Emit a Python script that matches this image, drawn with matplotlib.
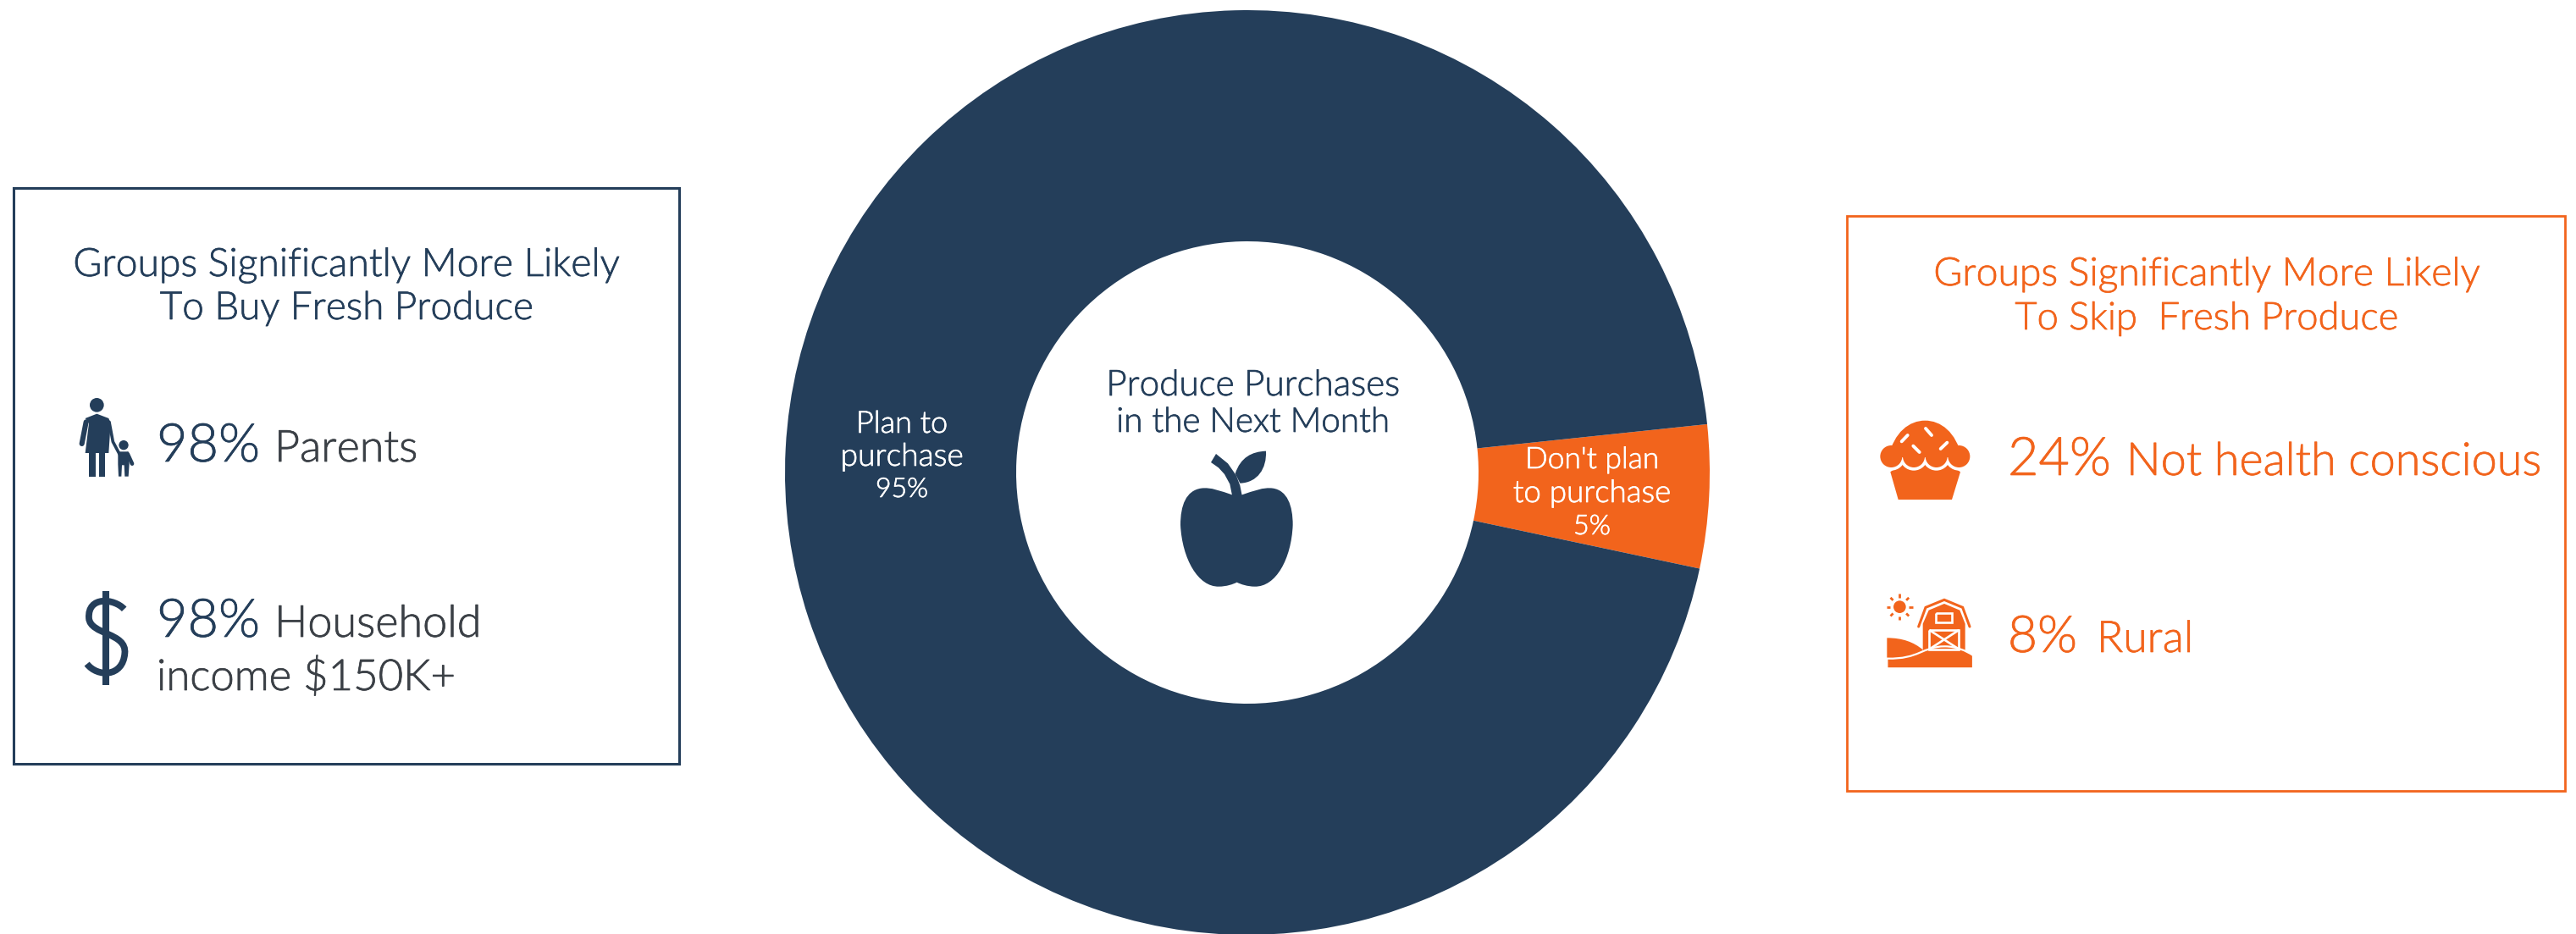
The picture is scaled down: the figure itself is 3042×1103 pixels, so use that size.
import numpy as np
import matplotlib
matplotlib.use("Agg")
import matplotlib.pyplot as plt
import matplotlib.patheffects as pe
from matplotlib.path import Path
from matplotlib.patches import PathPatch, Circle, Polygon, Rectangle

NAVY = "#243E5A"
ORANGE = "#F2641C"
GREY = "#3B4046"

# donut values
shares = [5, 95]
share_colors = [ORANGE, NAVY]
share_text = ["Don't plan\nto purchase\n5%", "Plan to\npurchase\n95%"]

# side panels
buy_groups = ["Parents", "Household"]
buy_values = ["98%", "98%"]
skip_groups = ["Not health conscious", "Rural"]
skip_values = ["24%", "8%"]

W, H = 3042, 1103
plt.rcParams["font.family"] = ["Lato", "DejaVu Sans"]
fig = plt.figure(figsize=(W / 100, H / 100), dpi=100, facecolor="white")

# donut gets its own axes, everything else is drawn in pixel coords
cx, cy, R = 1473, 558, 546
ax_pie = fig.add_axes([(cx - R) / W, (H - cy - R) / H, 2 * R / W, 2 * R / H])
ax_pie.pie(shares, colors=share_colors, startangle=-12, radius=1,
           wedgeprops=dict(width=0.5))
ax_pie.set_xlim(-1, 1)
ax_pie.set_ylim(-1, 1)
ax_pie.axis("off")

ax = fig.add_axes([0, 0, 1, 1])
ax.set_xlim(0, W)
ax.set_ylim(H, 0)
ax.axis("off")
ax.patch.set_alpha(0)


def fit(x, y, s, width, color, ha="left", va="baseline", weight=300):
    # font size is picked so the string spans the given pixel width
    t = ax.text(x, y, s, color=color, ha=ha, va=va, fontweight=weight, fontsize=30)
    w = t.get_window_extent(fig.canvas.get_renderer()).width
    t.set_fontsize(30 * width / w)
    # light face is a bit too thin, fatten it slightly
    t.set_path_effects([pe.withStroke(linewidth=0.5, foreground=color)])
    return t


def poly(pts, fn, color, **kw):
    ax.add_patch(Polygon([fn(*p) for p in pts], closed=True, fc=color, ec="none", **kw))


def curve(verts, codes, fn, fc, ec="none", lw=0):
    p = Path([fn(*v) for v in verts], codes)
    ax.add_patch(PathPatch(p, fc=fc, ec=ec, lw=lw, capstyle="butt"))


def circ(x, y, r, fn, color, scale=3.0):
    ax.add_patch(Circle(fn(x, y), r / scale, fc=color, ec="none"))


def seg(pts, fn, color, lw, cap="round"):
    xy = np.array([fn(*p) for p in pts])
    ax.plot(xy[:, 0], xy[:, 1], color=color, lw=lw, solid_capstyle=cap, solid_joinstyle="miter")


# panel boxes
ax.add_patch(Rectangle((16, 222), 786, 680, fc="none", ec=NAVY, lw=2.2))
ax.add_patch(Rectangle((2181, 255), 848, 679, fc="none", ec=ORANGE, lw=2.0))

# left panel text
fit(409, 326, "Groups Significantly More Likely", 644, NAVY, ha="center")
fit(409, 377, "To Buy Fresh Produce", 440, NAVY, ha="center")
fit(185, 545, buy_values[0], 122, NAVY)
fit(324, 545, buy_groups[0], 169, GREY)
fit(185, 752, buy_values[1], 122, NAVY)
fit(324, 752, buy_groups[1], 244, GREY)
fit(185, 815, "income $150K+", 352, GREY)

# right panel text
fit(2606, 337, "Groups Significantly More Likely", 644, ORANGE, ha="center")
fit(2606, 389, "To Skip  Fresh Produce", 452, ORANGE, ha="center")
fit(2371, 561, skip_values[0], 122, ORANGE)
fit(2511, 561, skip_groups[0], 489, ORANGE)
fit(2371, 770, skip_values[1], 82, ORANGE)
fit(2476, 770, skip_groups[1], 114, ORANGE)

# centre and slice labels
fit(1480, 467, "Produce Purchases", 346, NAVY, ha="center")
fit(1480, 510, "in the Next Month", 322, NAVY, ha="center")

plan = share_text[1].split("\n")
for line, yy, ww in zip(plan, [511, 550, 587], [108, 145, 62]):
    fit(1065, yy, line, ww, "white", ha="center")
skip = share_text[0].split("\n")
for line, yy, ww in zip(skip, [553, 593, 631], [158, 186, 44]):
    fit(1880, yy, line, ww, "white", ha="center")


# woman and child
def z4(x, y):
    return 60 + x / 3, 450 + y / 3


circ(163, 85, 25, z4, NAVY)
poly([(122, 132), (163, 116), (205, 132), (212, 150), (205, 255), (122, 255), (135, 150)], z4, NAVY)
seg([(125, 145), (110, 222)], z4, NAVY, 4.4)
poly([(135, 250), (160, 250), (160, 338), (135, 338)], z4, NAVY)
poly([(170, 250), (192, 250), (192, 338), (170, 338)], z4, NAVY)
seg([(207, 145), (220, 215), (245, 262)], z4, NAVY, 2.6)
circ(258, 227, 17, z4, NAVY)
poly([(238, 250), (275, 250), (278, 295), (275, 338), (262, 338), (260, 298), (252, 298), (250, 338), (240, 338), (238, 295)], z4, NAVY)
seg([(272, 258), (288, 293)], z4, NAVY, 3.4)

# dollar sign
seg([(195, 745), (195, 1078)], z4, NAVY, 5.8, cap="butt")
curve([(260, 808), (225, 770), (130, 760), (135, 840), (140, 900), (270, 890), (262, 965),
       (255, 1050), (165, 1050), (128, 1002)],
      [Path.MOVETO] + [Path.CURVE4] * 9, z4, "none", ec=NAVY, lw=5.6)


# cupcake
def z5(x, y):
    return 2200 + x / 3, 480 + y / 3


poly([(97, 232), (140, 200), (300, 200), (345, 232), (315, 330), (125, 330)], z5, ORANGE)
for lx in [100, 180, 260, 340]:
    circ(lx, 177, 50, z5, "white")
for lx in [100, 180, 260, 340]:
    circ(lx, 177, 39, z5, ORANGE)
curve([(90, 180), (110, 90), (165, 50), (220, 50), (275, 50), (330, 90), (350, 180), (90, 180)],
      [Path.MOVETO] + [Path.CURVE4] * 6 + [Path.CLOSEPOLY], z5, ORANGE)
for a, b in [((137, 124), (158, 102)), ((222, 78), (243, 102)),
             ((178, 140), (200, 162)), ((275, 150), (298, 128))]:
    seg([a, b], z5, "white", 2.8)

# barn, sun and hills
circ(130, 710, 22, z5, ORANGE)
for ang in np.arange(0, 360, 45):
    c, s = np.cos(np.radians(ang)), np.sin(np.radians(ang))
    seg([(130 + 33 * c, 710 + 33 * s), (130 + 46 * c, 710 + 46 * s)], z5, ORANGE, 2.0, cap="butt")
seg([(197, 780), (222, 712), (288, 685), (353, 712), (378, 780)], z5, ORANGE, 2.2)
poly([(212, 870), (212, 770), (233, 722), (288, 699), (343, 722), (362, 770), (362, 870)], z5, ORANGE)
seg([(258, 732), (315, 732), (315, 766), (258, 766), (258, 732)], z5, "white", 1.9, cap="butt")
seg([(235, 792), (340, 792), (340, 860), (235, 860), (235, 792)], z5, "white", 1.9, cap="butt")
seg([(235, 792), (340, 860)], z5, "white", 1.9, cap="butt")
seg([(340, 792), (235, 860)], z5, "white", 1.9, cap="butt")
curve([(85, 820), (140, 820), (180, 835), (212, 862), (212, 900), (85, 900), (85, 820)],
      [Path.MOVETO] + [Path.CURVE4] * 3 + [Path.LINETO, Path.LINETO, Path.CLOSEPOLY], z5, ORANGE)
curve([(85, 893), (200, 896), (210, 850), (290, 850), (330, 850), (365, 865), (390, 882),
       (390, 928), (85, 928), (85, 893)],
      [Path.MOVETO] + [Path.CURVE4] * 6 + [Path.LINETO, Path.LINETO, Path.CLOSEPOLY], z5, ORANGE,
      ec="white", lw=1.6)


# apple
def z6(x, y):
    return 1370 + x / 3, 520 + y / 3


apple = [(290, 193), (330, 180), (365, 165), (400, 170), (450, 178), (470, 230), (470, 300),
         (465, 420), (410, 520), (335, 518), (310, 518), (285, 510), (272, 503),
         (258, 510), (235, 518), (208, 518), (135, 520), (78, 420), (72, 300),
         (72, 230), (92, 178), (145, 170), (180, 165), (215, 180), (255, 193), (290, 193)]
curve(apple, [Path.MOVETO] + [Path.CURVE4] * 24 + [Path.CLOSEPOLY], z6, NAVY)
poly([(180, 78), (198, 48), (240, 82), (270, 125), (283, 160), (290, 195), (255, 195),
      (247, 155), (228, 120), (207, 97)], z6, NAVY)
curve([(266, 118), (285, 60), (325, 40), (375, 38), (378, 100), (345, 150), (283, 152), (266, 118)],
      [Path.MOVETO] + [Path.CURVE4] * 6 + [Path.CLOSEPOLY], z6, NAVY)

fig.savefig("out.png", dpi=100, facecolor="white")
